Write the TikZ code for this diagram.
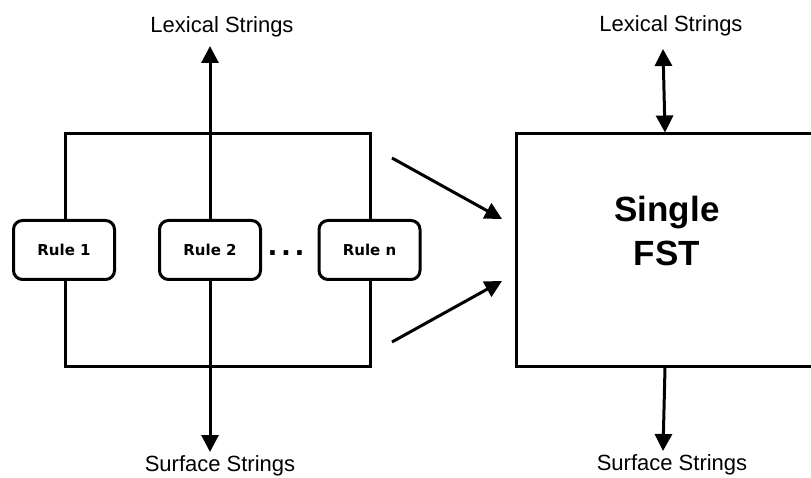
\documentclass[tikz,border=0pt]{standalone}
\usepackage{fontspec}
\setmainfont{Liberation Sans}
\newfontfamily\rulefont{DejaVu Sans}
\usetikzlibrary{arrows.meta}
\tikzset{
  line/.style={line width=3pt, draw=black},
  arr/.style={line, -{Triangle[length=17pt,width=17pt]}},
  dblarr/.style={line, {Triangle[length=17pt,width=17pt]}-{Triangle[length=17pt,width=17pt]}},
  rulebox/.style={line, fill=white, rounded corners=9pt, minimum width=101pt, minimum height=59pt,
    font=\rulefont\bfseries\fontsize{15}{17}\selectfont, inner sep=0pt},
  lbl/.style={font=\fontsize{22}{26}\selectfont, anchor=base, inner sep=0pt},
}
\begin{document}
\begin{tikzpicture}[x=1pt,y=-1pt]
\useasboundingbox (0,0) rectangle (811,478);
% labels
\node[lbl] (lexL) at (222,33) {Lexical Strings};
\node[lbl] (surfL) at (220,471) {Surface Strings};
\node[lbl] (lexR) at (671,32) {Lexical Strings};
\node[lbl] (surfR) at (672,470) {Surface Strings};
% left frame
\node[line, rectangle, minimum width=305pt, minimum height=232pt, inner sep=0pt] (frame) at (217.5,250) {};
% right box
\node[line, rectangle, minimum width=298pt, minimum height=232pt, inner sep=0pt] (fst) at (665,250) {};
\node[font=\bfseries\fontsize{35}{44}\selectfont, align=center, inner sep=0pt] (fsttext) at (667,231) {Single\\FST};
% vertical arrow through left
\coordinate (lt) at (210,46);
\coordinate (lb) at (210,452);
\draw[dblarr] (lb) -- (lt);
% rule boxes
\node[rulebox] (r1) at (64,250) {Rule 1};
\node[rulebox] (r2) at (210,250) {Rule 2};
\node[rulebox] (rn) at (369.5,250) {Rule n};
\node[font=\rulefont\bfseries\fontsize{26}{30}\selectfont, inner sep=0pt] (dots) at (286,253.5) {.\hspace{3.6pt}.\hspace{3.6pt}.};
% right arrows
\coordinate (rt) at (663,49);
\draw[dblarr] (rt) -- (fst.north);
\coordinate (rb) at (663,451);
\draw[arr] (fst.south) -- (rb);
% diagonal arrows
\coordinate (a1s) at (392,158);
\coordinate (a1e) at (502,219);
\coordinate (a2s) at (392,342);
\coordinate (a2e) at (502,281);
\draw[arr] (a1s) -- (a1e);
\draw[arr] (a2s) -- (a2e);
\end{tikzpicture}
\end{document}
